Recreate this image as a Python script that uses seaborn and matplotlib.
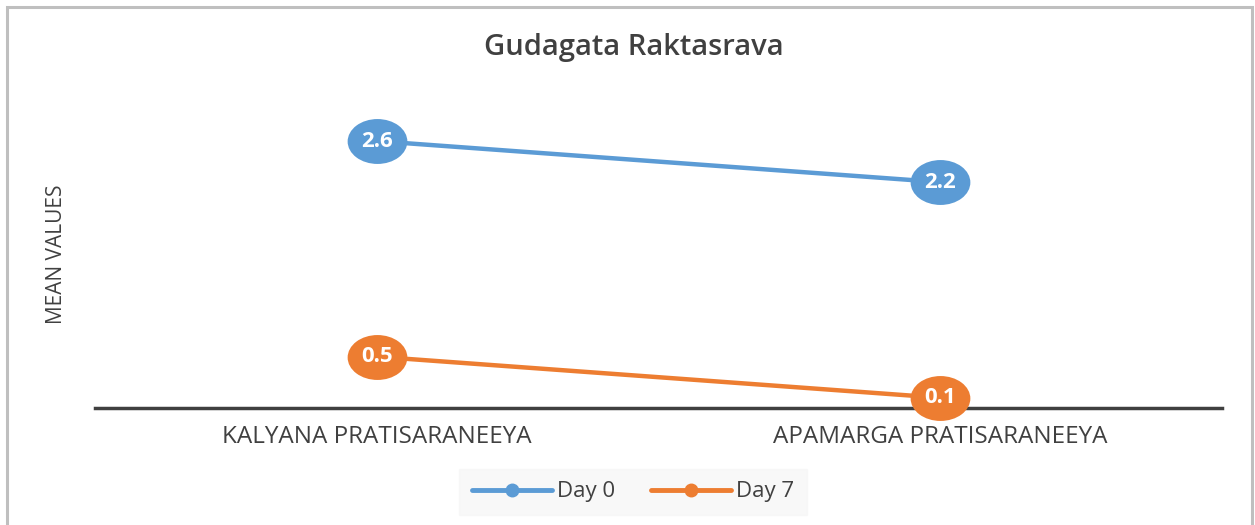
import matplotlib
matplotlib.use("Agg")
import matplotlib.pyplot as plt
import seaborn as sns
import pandas as pd
from matplotlib.path import Path
from matplotlib.transforms import Affine2D
from matplotlib.lines import Line2D
from matplotlib.patches import Rectangle

categories = ["KALYANA PRATISARANEEYA", "APAMARGA PRATISARANEEYA"]
series_names = ["Day 0", "Day 7"]
day0 = [2.6, 2.2]
day7 = [0.5, 0.1]
colors = ["#5B9BD5", "#ED7D31"]
title = "Gudagata Raktasrava"
ylabel = "MEAN VALUES"

sns.set_theme(style="white")
plt.rcParams["font.family"] = ["Open Sans", "DejaVu Sans"]

fig = plt.figure(figsize=(12.55, 5.25), dpi=100)
ax = fig.add_axes([95 / 1255, 1 - 408 / 525, (1222 - 95) / 1255, (408 - 100) / 525])

ellipse = Path.unit_circle().transformed(Affine2D().scale(1.33, 1.0))

df = pd.DataFrame({
    "cat": categories * 2,
    "val": day0 + day7,
    "series": [series_names[0]] * 2 + [series_names[1]] * 2,
})

for name, col in zip(series_names, colors):
    sub = df[df["series"] == name]
    sns.lineplot(data=sub, x="cat", y="val", color=col, linewidth=3.2,
                 marker=ellipse, markersize=43, markeredgewidth=0,
                 ax=ax, legend=False, sort=False, clip_on=False, zorder=3)
    for i, (c, v) in enumerate(zip(sub["cat"], sub["val"])):
        ax.text(i, v, f"{v:.1f}", color="white", fontsize=16, fontweight="bold",
                ha="center", va="center", zorder=5)

ax.set_xlim(-0.5, 1.5)
ax.set_ylim(0, 3)
ax.set_yticks([])
ax.set_xlabel("")
ax.set_ylabel(ylabel, fontsize=15, color="#404040", labelpad=20)
ax.tick_params(axis="x", length=0, pad=12, labelsize=17.5, labelcolor="#404040")
for s in ["top", "right", "left"]:
    ax.spines[s].set_visible(False)
ax.spines["bottom"].set_color("#404040")
ax.spines["bottom"].set_linewidth(2.5)
ax.spines["bottom"].set_zorder(1)

fig.text(0.5 + 0.005, 1 - 48 / 525, title, ha="center", va="center",
         fontsize=21, fontweight="semibold", color="#404040")

handles = [Line2D([0], [0], color=c, lw=3.5, marker="o", markersize=9)
           for c in colors]
leg = fig.legend(handles, series_names, loc="center",
                 bbox_to_anchor=(633 / 1255, 1 - 492 / 525), ncol=2,
                 frameon=True, fontsize=16, handlelength=3.6, columnspacing=1.6,
                 handletextpad=0.25, borderpad=0.55, borderaxespad=0)
leg.get_frame().set_facecolor("#F7F7F7")
leg.get_frame().set_edgecolor("#F7F7F7")
leg.get_frame().set_boxstyle("square", pad=0)
for t in leg.get_texts():
    t.set_color("#404040")

fig.patches.append(Rectangle((7 / 1255, -0.01), (1252 - 7) / 1255, 1 - 7 / 525 + 0.01,
                             transform=fig.transFigure, fill=False,
                             edgecolor="#BFBFBF", linewidth=2.2))

fig.savefig("out.png", dpi=100)
